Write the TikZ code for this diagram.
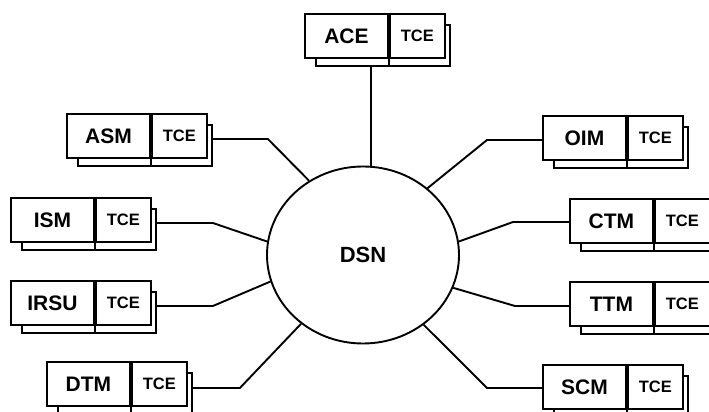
\documentclass[tikz,border=0pt]{standalone}
\usepackage{fontspec}
\setmainfont{Liberation Sans}
\usetikzlibrary{shapes.geometric}
\tikzset{
  ln/.style={line width=1.9pt, draw=black},
  mainbox/.style={ln, fill=white, rectangle, minimum width=83pt, minimum height=44pt, inner sep=0pt, font=\fontsize{21}{25}\selectfont\bfseries},
  tcebox/.style={ln, fill=white, rectangle, minimum width=55pt, minimum height=44pt, inner sep=0pt, font=\fontsize{16.5}{20}\selectfont\bfseries},
  shadowbox/.style={ln, fill=white, rectangle, minimum width=134pt, minimum height=41pt, inner sep=0pt},
  hub/.style={ln, fill=white, ellipse, minimum width=192pt, minimum height=177pt, inner sep=0pt, font=\fontsize{22}{26}\selectfont\bfseries},
  conn/.style={ln, line join=miter},
}
\newcommand\modbox[4]{%
  \node[shadowbox, anchor=north west] (#1s) at (#2+11, 401-#3) {};
  \node[mainbox, anchor=north west] (#1) at (#2, 412-#3) {#4};
  \node[tcebox, anchor=west] (#1t) at (#1.east) {TCE};
  \draw[ln] (#1.south east) -- (#1.south east |- #1s.south);
}
\begin{document}
\begin{tikzpicture}[x=1pt,y=1pt]
  \useasboundingbox (0,0) rectangle (709,412);
  \fill[white] (0,0) rectangle (709,412);
  \clip (0,0) rectangle (709,412);

  \node[hub] (dsn) at (363,157) {DSN};

  \modbox{ace}{304}{13}{ACE}
  \modbox{asm}{66}{113}{ASM}
  \modbox{ism}{10}{197}{ISM}
  \modbox{irsu}{10}{280}{IRSU}
  \modbox{dtm}{46}{361}{DTM}
  \modbox{oim}{542}{115}{OIM}
  \modbox{ctm}{569}{198}{CTM}
  \modbox{ttm}{569}{281}{TTM}
  \modbox{scm}{542}{364}{SCM}

  % connectors
  \coordinate (acep) at ([xshift=-12pt]aces.south);
  \draw[conn] (acep) -- (acep |- dsn.north);

  \coordinate (asmp) at ([yshift=-15pt]asms.north east);
  \draw[conn] (asmp) -- ++(55,0) -- (dsn.126.5);
  \coordinate (ismp) at ([yshift=-15pt]isms.north east);
  \draw[conn] (ismp) -- ++(56,0) -- (dsn.172.9);
  \coordinate (irsup) at ([yshift=-15pt]irsus.north east);
  \draw[conn] (irsup) -- ++(56,0) -- (dsn.196.2);
  \coordinate (dtmp) at ([yshift=-16pt]dtms.north east);
  \draw[conn] (dtmp) -- ++(47,0) -- (dsn.228.9);

  \coordinate (oimp) at ([yshift=-25pt]oim.north west);
  \draw[conn] (oimp) -- ++(-55,0) -- (dsn.46.7);
  \coordinate (ctmp) at ([yshift=-24pt]ctm.north west);
  \draw[conn] (ctmp) -- ++(-56,0) -- (dsn.8.4);
  \coordinate (ttmp) at ([yshift=-25pt]ttm.north west);
  \draw[conn] (ttmp) -- ++(-54,0) -- (dsn.340.4);
  \coordinate (scmp) at ([yshift=-24pt]scm.north west);
  \draw[conn] (scmp) -- ++(-55,0) -- (dsn.311);
\end{tikzpicture}
\end{document}
